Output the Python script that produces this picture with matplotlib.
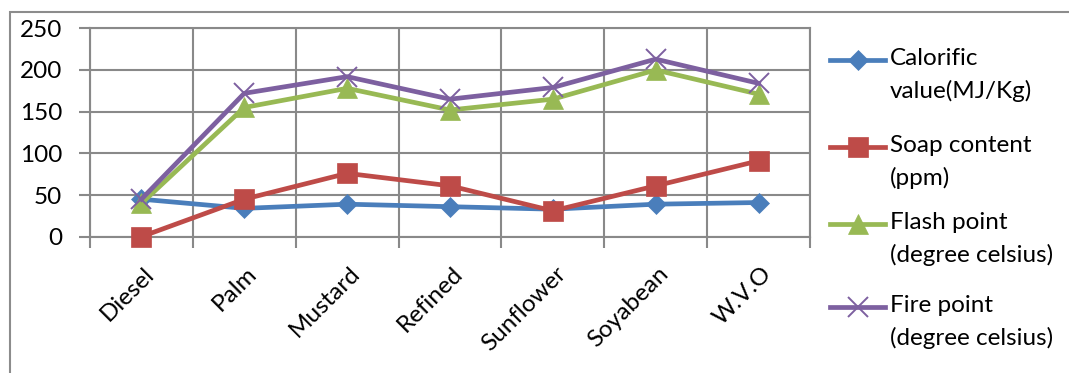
import matplotlib.pyplot as plt
import matplotlib.transforms as mtrans
from matplotlib.lines import Line2D
from matplotlib.patches import Rectangle
import numpy as np

plt.rcParams['font.family'] = ['Lato', 'DejaVu Sans']

# fuel samples and measured properties
fuels = ['Diesel', 'Palm', 'Mustard', 'Refined', 'Sunflower', 'Soyabean', 'W.V.O']
calorific = [45, 34, 39, 36, 33, 39, 41]
soap = [0, 45, 76, 61, 31, 61, 91]
flash = [40, 155, 178, 152, 165, 200, 171]
fire = [45, 172, 192, 165, 179, 213, 184]

series_names = ['Calorific\nvalue(MJ/Kg)', 'Soap content\n(ppm)',
                'Flash point\n(degree celsius)', 'Fire point\n(degree celsius)']
series_vals = [calorific, soap, flash, fire]
colors = ['#4A7EBB', '#BE4B48', '#98B954', '#7D60A0']
markers = ['D', 's', '^', 'x']
msizes = [10, 14, 14, 15]

grid_c = '#898989'
fs = 17.5

fig = plt.figure(figsize=(10.69, 3.73), dpi=100)
ax = fig.add_axes([90 / 1069, 1 - 236.7 / 373, 720 / 1069, (236.7 - 28.3) / 373])

x = np.arange(len(fuels))
for vals, c, m, ms in zip(series_vals, colors, markers, msizes):
    ax.plot(x, vals, color=c, lw=3.4, marker=m, markersize=ms,
            markeredgewidth=1.4 if m == 'x' else 0.5, markeredgecolor=c,
            markerfacecolor=c, zorder=3, clip_on=False)

ax.set_xlim(-0.5, len(fuels) - 0.5)
ax.set_ylim(0, 250)
ax.set_yticks(np.arange(0, 251, 50))
ax.set_xticks(x)
ax.set_xticklabels(fuels, rotation=45, ha='right', rotation_mode='anchor')
ax.tick_params(axis='x', length=0, pad=16, labelsize=fs)
ax.tick_params(axis='y', length=8, width=1.5, color=grid_c, pad=12, labelsize=fs)

# nudge rotated category labels so their ends sit just right of the category
shift = mtrans.ScaledTranslation(2 / 100, -4 / 100, fig.dpi_scale_trans)
for lab in ax.get_xticklabels():
    lab.set_transform(lab.get_transform() + shift)

# category boundaries as vertical gridlines plus outward ticks
ax.set_xticks(np.arange(-0.5, len(fuels)), minor=True)
ax.tick_params(axis='x', which='minor', length=8, width=1.5, color=grid_c)
ax.grid(True, which='minor', axis='x', color=grid_c, lw=1.5)
ax.grid(True, which='major', axis='y', color=grid_c, lw=1.5)
for s in ax.spines.values():
    s.set_color(grid_c)
    s.set_linewidth(1.5)
ax.set_axisbelow(True)

# outer chart frame
fig.add_artist(Rectangle((10 / 1069, -0.1), 1.2, 1 - 12 / 373 + 0.1,
                         transform=fig.transFigure, fill=False,
                         edgecolor='#8c8c8c', lw=1.5))

# legend drawn alongside the plot
leg_y = [60, 147, 224, 307]
for name, c, m, ms, yy in zip(series_names, colors, markers, msizes, leg_y):
    yf = 1 - yy / 373
    fig.add_artist(Line2D([830 / 1069, 885 / 1069], [yf, yf], color=c, lw=3.4,
                          transform=fig.transFigure))
    fig.add_artist(Line2D([857.5 / 1069], [yf], color=c, marker=m, markersize=ms,
                          markeredgewidth=1.4 if m == 'x' else 0.5,
                          markeredgecolor=c, markerfacecolor=c,
                          transform=fig.transFigure))
    fig.text(890 / 1069, yf + 12 / 373, name, fontsize=fs, va='top',
             linespacing=1.62)

fig.savefig('out.png', dpi=100)
